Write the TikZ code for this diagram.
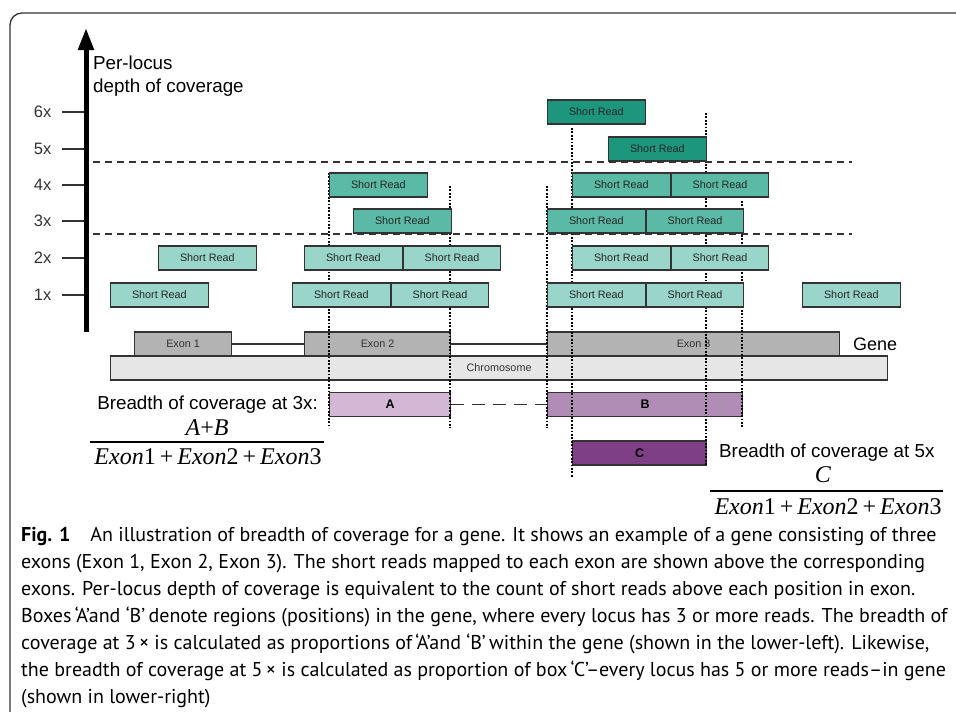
\documentclass[tikz,border=0pt]{standalone}
\usepackage{fontspec}
\newfontfamily\arial{Liberation Sans}
\newfontfamily\timesf{Liberation Serif}
\newfontfamily\capfont{PT Sans}
\definecolor{readlite}{HTML}{99D6C9}
\definecolor{readmid}{HTML}{5BBAA6}
\definecolor{readdark}{HTML}{1C977E}
\definecolor{exongray}{HTML}{B3B3B3}
\definecolor{chromgray}{HTML}{E6E6E6}
\definecolor{boxA}{HTML}{D4B7D4}
\definecolor{boxB}{HTML}{B08DB4}
\definecolor{boxC}{HTML}{7F3F86}
\definecolor{edge}{HTML}{333333}
\tikzset{every picture/.style={/utils/exec={\arial}}}
\usetikzlibrary{positioning}
\usetikzlibrary{arrows.meta}

\tikzset{
  shortread/.style={draw=edge, line width=1.2pt, minimum width=97.5pt, minimum height=24pt,
    inner sep=0pt, anchor=west, text=black!85, font=\fontsize{10.8}{12}\selectfont},
  lite/.style={shortread, fill=readlite},
  mid/.style={shortread, fill=readmid},
  dark/.style={shortread, fill=readdark},
  exon/.style={draw=edge, line width=1.2pt, fill=exongray, minimum height=24pt, inner sep=0pt,
    anchor=west, text=black!80, font=\fontsize{10.8}{12}\selectfont},
  region/.style={draw=edge, line width=1.2pt, minimum height=24.5pt, inner sep=0pt, anchor=west,
    font=\bfseries\fontsize{12.5}{14}\selectfont},
  guide/.style={line width=1.7pt, dash pattern=on 1.7pt off 1.7pt},
  levelline/.style={edge, line width=1.3pt, dash pattern=on 7pt off 5pt},
  tick/.style={edge, line width=1.3pt},
  ticklabel/.style={left=10pt, inner sep=0pt, font=\fontsize{16.5}{18}\selectfont},
  bigtext/.style={inner sep=0pt, font=\fontsize{18.8}{23}\selectfont},
  fracpart/.style={inner sep=0pt, font=\timesf\fontsize{24}{28}\selectfont},
  fracbar/.style={line width=1.8pt}
}

\begin{document}
\begin{tikzpicture}[x=1pt, y=-1pt]
  \useasboundingbox (0,0) rectangle (956,712);
  \draw [edge, line width=1.3pt, rounded corners=12pt] (10,730) -- (10,13) -- (970,13);

  % depth axis
  \draw [line width=5pt, -{Triangle[length=22pt, width=15pt]}] (86,332) -- (86,28);
  \node (ylab) [bigtext, anchor=west, align=left] at (93,76) {Per-locus\\depth of coverage};

  \draw [tick] (62,112) -- (84,112) node (t6) [ticklabel, pos=0] {6x};
  \draw [tick] (62,149) -- (84,149) node (t5) [ticklabel, pos=0] {5x};
  \draw [tick] (62,185) -- (84,185) node (t4) [ticklabel, pos=0] {4x};
  \draw [tick] (62,221) -- (84,221) node (t3) [ticklabel, pos=0] {3x};
  \draw [tick] (62,258) -- (84,258) node (t2) [ticklabel, pos=0] {2x};
  \draw [tick] (62,295) -- (84,295) node (t1) [ticklabel, pos=0] {1x};

  \draw [levelline] (93,162) -- (852,162);
  \draw [levelline] (93,234) -- (852,234);

  % gene and chromosome
  \node (chr) [exon, fill=chromgray, minimum width=777pt] at (110,368) {Chromosome};
  \node (e1) [exon, minimum width=97pt] at (134,344) {Exon 1};
  \node (e2) [exon, minimum width=146pt] at (304,344) {Exon 2};
  \node (e3) [exon, minimum width=292pt] at (547,344) {Exon 3};
  \draw [edge, line width=1.2pt] (e1) -- (e2);
  \draw [edge, line width=1.2pt] (e2) -- (e3);
  \node (genelab) [bigtext, anchor=west, font=\fontsize{18}{22}\selectfont] at (853,344) {Gene};

  % regions at 3x and 5x
  \node (A) [region, fill=boxA, minimum width=121pt] at (329,404.5) {A};
  \node (B) [region, fill=boxB, minimum width=195pt] at (547,404.5) {B};
  \node (C) [region, fill=boxC, minimum width=134pt, minimum height=24pt] at (572,453) {C};
  \draw [edge, line width=1.3pt, dash pattern=on 13pt off 8pt] (A) -- (B);

  \node (lab3) [bigtext, anchor=east] at (318,405) {Breadth of coverage at 3x:};
  \node (num3) [fracpart] at (207,428) {\textit{A}+\textit{B}};
  \node (den3) [fracpart] at (208,457) {\textit{Exon}1\,+\,\textit{Exon}2\,+\,\textit{Exon}3};
  \draw [fracbar] (90,442) -- (324,442);

  \node (lab5) [bigtext, anchor=west] at (719,453) {Breadth of coverage at 5x};
  \node (num5) [fracpart] at (823,475) {\textit{C}};
  \node (den5) [fracpart] at (828,507) {\textit{Exon}1\,+\,\textit{Exon}2\,+\,\textit{Exon}3};
  \draw [fracbar] (710,491) -- (943,491);

  % dotted guides, under the reads
  \draw [guide] (329,173) -- (329,428);
  \draw [guide] (450,186) -- (450,428);
  \draw [guide] (547,186) -- (547,428);
  \draw [guide] (572,128) -- (572,477);
  \draw [guide] (706,113) -- (706,465);
  \draw [guide] (742,201) -- (742,428);

  % short reads, one row per depth
  \node (r1a) [lite] at (110,295) {Short Read};
  \node (r1b) [lite] at (292,295) {Short Read};
  \node (r1c) [lite, right=0pt of r1b] {Short Read};
  \node (r1d) [lite] at (547,295) {Short Read};
  \node (r1e) [lite, right=0pt of r1d] {Short Read};
  \node (r1f) [lite] at (802,295) {Short Read};

  \node (r2a) [lite] at (158,258) {Short Read};
  \node (r2b) [lite] at (304,258) {Short Read};
  \node (r2c) [lite, right=0pt of r2b] {Short Read};
  \node (r2d) [lite] at (572,258) {Short Read};
  \node (r2e) [lite, right=0pt of r2d] {Short Read};

  \node (r3a) [mid] at (353,221) {Short Read};
  \node (r3b) [mid] at (547,221) {Short Read};
  \node (r3c) [mid, right=0pt of r3b] {Short Read};

  \node (r4a) [mid] at (329,185) {Short Read};
  \node (r4b) [mid] at (572,185) {Short Read};
  \node (r4c) [mid, right=0pt of r4b] {Short Read};

  \node (r5a) [dark] at (608,149) {Short Read};
  \node (r6a) [dark] at (547,112) {Short Read};

  % caption
  \node (cap) [anchor=north west, align=left, inner sep=0pt,
    font=\capfont\fontsize{20}{27}\selectfont] at (21,527)
    {\textbf{Fig. 1}\quad An illustration of breadth of coverage for a gene. It shows an example of a gene consisting of three\\
     exons (Exon 1, Exon 2, Exon 3). The short reads mapped to each exon are shown above the corresponding\\
     exons. Per-locus depth of coverage is equivalent to the count of short reads above each position in exon.\\
     Boxes\,‘A’and ‘B’\,denote regions (positions) in the gene, where every locus has 3 or more reads. The breadth of\\
     coverage at 3\,× is calculated as proportions of\,‘A’and ‘B’\,within the gene (shown in the lower-left). Likewise,\\
     the breadth of coverage at 5\,× is calculated as proportion of box\,‘C’–every locus has 5 or more reads–in gene\\
     (shown in lower-right)};
\end{tikzpicture}
\end{document}
